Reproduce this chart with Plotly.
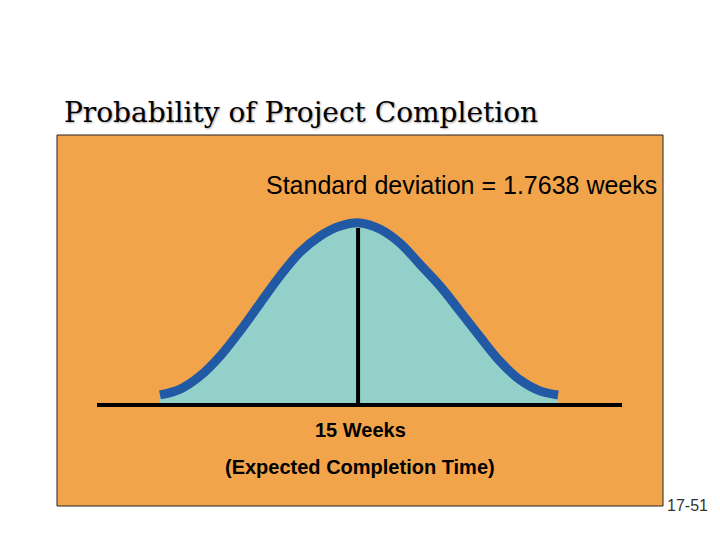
import plotly.graph_objects as go

# Bell curve: completion time (weeks) vs relative height
weeks = [10.85, 11.27, 11.68, 12.10, 12.51, 12.93, 13.34, 13.76, 14.17, 14.59, 15.00,
         15.41, 15.83, 16.24, 16.66, 17.07, 17.49, 17.90, 18.32, 18.73, 19.11]
height = [0.055, 0.087, 0.158, 0.268, 0.404, 0.557, 0.705, 0.836, 0.923, 0.978, 0.995,
          0.962, 0.885, 0.770, 0.650, 0.514, 0.372, 0.240, 0.137, 0.077, 0.055]
mean_weeks = 14.96
mean_line = [0, 0.967]

title = "Probability of Project Completion"
sd_label = "Standard deviation = 1.7638 weeks"
mean_label = "15 Weeks"
mean_sub = "(Expected Completion Time)"
slide_no = "17-51"

W, H = 720, 540
OFF = 8  # page offset of the plot in the browser

def px(x):
    return (x - OFF) / W

def py(y):
    return 1 - (y - OFF) / H

fig = go.Figure()
fig.add_trace(go.Scatter(
    x=weeks, y=height, mode="lines",
    line=dict(color="#2159A5", width=9, shape="spline", smoothing=1.0),
    fill="tozeroy", fillcolor="#93D0C9", hoverinfo="skip",
))
fig.add_trace(go.Scatter(
    x=[mean_weeks, mean_weeks], y=mean_line, mode="lines",
    line=dict(color="black", width=4), hoverinfo="skip",
))

shapes = [
    dict(type="rect", xref="paper", yref="paper", x0=px(57), x1=px(663), y0=py(506), y1=py(135),
         fillcolor="#F2A44B", line=dict(color="#222222", width=1), layer="below"),
    dict(type="line", xref="paper", yref="paper", x0=px(97), x1=px(622), y0=py(405), y1=py(405),
         line=dict(color="black", width=4)),
]

annotations = [
    dict(text=title, x=px(62), y=py(112), xref="paper", yref="paper", xanchor="left", yanchor="middle",
         showarrow=False,
         font=dict(family="DejaVu Serif", size=28, color="black", shadow="1px 1px 2px #aaaaaa")),
    dict(text=sd_label, x=px(659), y=py(185), xref="paper", yref="paper", xanchor="right", yanchor="middle",
         showarrow=False, font=dict(family="Liberation Sans", size=25, color="black")),
    dict(text="<b>" + mean_label + "</b>", x=px(360), y=py(430), xref="paper", yref="paper",
         xanchor="center", yanchor="middle", showarrow=False,
         font=dict(family="Liberation Sans", size=20, color="black")),
    dict(text="<b>" + mean_sub + "</b>", x=px(360), y=py(467), xref="paper", yref="paper",
         xanchor="center", yanchor="middle", showarrow=False,
         font=dict(family="Liberation Sans", size=20, color="black")),
    dict(text=slide_no, x=px(665), y=py(505), xref="paper", yref="paper", xanchor="left", yanchor="middle",
         showarrow=False, font=dict(family="Liberation Sans", size=16, color="#333333")),
]

week_px = 48.2
x_lo = 15 + (OFF - 360) / week_px
x_hi = 15 + (OFF + W - 360) / week_px
base_px, unit_px = 405, 183
y_top = (base_px - OFF) / unit_px
y_bot = -(OFF + H - base_px) / unit_px

fig.update_layout(
    width=W, height=H, margin=dict(l=0, r=0, t=0, b=0),
    paper_bgcolor="white", plot_bgcolor="rgba(0,0,0,0)",
    showlegend=False, shapes=shapes, annotations=annotations,
    xaxis=dict(range=[x_lo, x_hi], visible=False, fixedrange=True),
    yaxis=dict(range=[y_bot, y_top], visible=False, fixedrange=True),
)

fig.write_html("out.html", config={"displayModeBar": False})
